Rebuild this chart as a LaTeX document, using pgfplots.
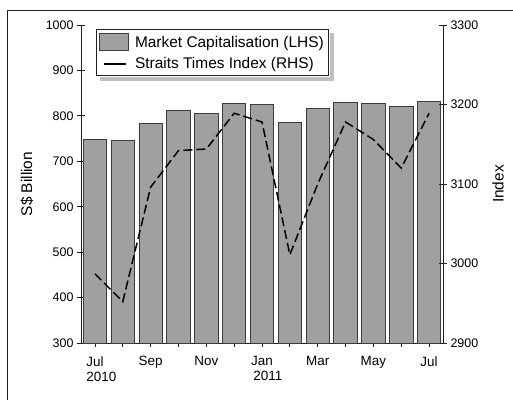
\documentclass[border=0pt]{standalone}
\usepackage{pgfplots}
\pgfplotsset{compat=1.18}
\usepackage{calc}
\usepackage{fontspec}
\setmainfont{Liberation Sans}

\definecolor{barfill}{HTML}{A0A0A0}
\definecolor{bardraw}{HTML}{3C3C3C}
\definecolor{axisgray}{HTML}{202020}

\newcommand{\yr}[1]{\makebox[\widthof{Jul}][l]{#1}}

\begin{document}
\begin{tikzpicture}[x=1bp,y=1bp]
\useasboundingbox (0,0) rectangle (513,400);
% outer frame (only top and left edges visible)
\draw[axisgray, line width=0.8bp] (7,0) -- (7,390) -- (513,390);

\begin{axis}[
    at={(81bp,57bp)}, anchor=south west,
    scale only axis, width=362bp, height=318bp,
    xmin=-0.5, xmax=12.5,
    ymin=300, ymax=1000,
    ytick={300,400,...,1000},
    /pgf/number format/assume math mode=true,
    /pgf/number format/1000 sep={},
    axis x line*=bottom, axis y line*=left,
    axis line style={axisgray, line width=0.8bp, -},
    tick style={axisgray, line width=0.8bp},
    tick align=center, major tick length=8bp,
    xtick={0,...,12},
    xticklabels={{Jul\\\yr{2010}},,Sep,,Nov,,{Jan\\\yr{2011}},,Mar,,May,,Jul},
    xticklabel style={align=center, font=\fontsize{13.5}{15}\selectfont, yshift=-6bp},
    yticklabel style={font=\fontsize{12.5}{14}\selectfont},
    ylabel={S\$ Billion},
    ylabel style={at={(axis description cs:-0.149,0.5)}, anchor=center, font=\fontsize{15.5}{18}\selectfont},
    legend style={at={(axis description cs:0.041,0.986)}, anchor=north west,
        name=leg,
        draw=axisgray, line width=0.8bp, fill=white,
        font=\fontsize{15.5}{18}\selectfont,
        inner xsep=3bp, inner ysep=3.5bp, row sep=4.5bp},
    legend cell align=left,
]
\addlegendimage{legend image code/.code={\draw[fill=barfill, draw=bardraw, line width=0.8bp] (0bp,-8.5bp) rectangle (29bp,8.5bp); \path (33bp,0bp);}}
\addlegendentry{Market Capitalisation (LHS)}
\addlegendimage{legend image code/.code={\draw[black, line width=2.2bp] (4bp,0bp) -- (26bp,0bp); \path (33bp,0bp);}}
\addlegendentry{Straits Times Index (RHS)}

\addplot[ybar, bar width=0.84, fill=barfill, draw=bardraw, line width=0.8bp, forget plot] coordinates {
    (0,749) (1,745) (2,784) (3,812) (4,806) (5,827) (6,825)
    (7,786) (8,817) (9,830) (10,828) (11,820) (12,832)
};
\end{axis}

\begin{axis}[
    at={(81bp,57bp)}, anchor=south west,
    scale only axis, width=362bp, height=318bp,
    xmin=-0.5, xmax=12.5,
    ymin=2900, ymax=3300,
    ytick={2900,3000,...,3300},
    /pgf/number format/assume math mode=true,
    /pgf/number format/1000 sep={},
    hide x axis,
    axis y line*=right,
    axis line style={axisgray, line width=0.8bp, -},
    tick style={axisgray, line width=0.8bp},
    tick align=center, major tick length=8bp,
    yticklabel style={font=\fontsize{12.5}{14}\selectfont},
    ylabel={Index},
    ylabel style={at={(axis description cs:1.152,0.5)}, anchor=center, font=\fontsize{15.5}{18}\selectfont},
]
\addplot[black, line width=1.5bp, dash pattern=on 9bp off 4bp] coordinates {
    (0,2987) (1,2952) (2,3096) (3,3142) (4,3144) (5,3189) (6,3178)
    (7,3011) (8,3100) (9,3178) (10,3156) (11,3120) (12,3189)
};
\end{axis}

% legend drop shadow, drawn as an L strip outside the box
\fill[black!25] ([xshift=4bp,yshift=-0.4bp]leg.south west) rectangle ([xshift=4bp,yshift=-4.4bp]leg.south east);
\fill[black!25] ([xshift=0.4bp,yshift=-4bp]leg.north east) rectangle ([xshift=4.4bp,yshift=-4.4bp]leg.south east);
\end{tikzpicture}
\end{document}
